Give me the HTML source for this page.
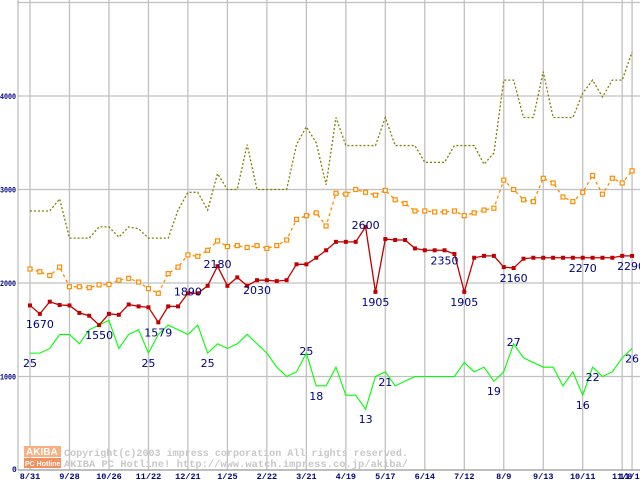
<!DOCTYPE html>
<html><head><meta charset="utf-8"><style>
body{margin:0;background:#fff;}
svg{display:block;font-family:"Liberation Mono",monospace;}
</style></head><body>
<svg id="c" width="640" height="480" viewBox="0 0 640 480"></svg>
<script>
const xLabels=["8/31","9/28","10/26","11/22","12/21","1/25","2/22","3/21","4/19","5/17","6/14","7/12","8/9","9/13","10/11","11/8","11/15"];
const xLabelIdx=[0,4,8,12,16,20,24,28,32,36,40,44,48,52,56,60,61];
const yTicks=[0,1000,2000,3000,4000,5000];
const redVals=[1760,1670,1800,1765,1760,1680,1650,1550,1670,1660,1770,1750,1740,1579,1750,1750,1890,1890,1970,2180,1970,2060,1970,2030,2030,2020,2030,2200,2200,2270,2350,2440,2440,2440,2600,1905,2470,2460,2460,2370,2350,2350,2350,2310,1905,2270,2290,2290,2170,2160,2260,2270,2270,2270,2270,2270,2270,2270,2270,2270,2290,2290];
const orangeVals=[2150,2120,2080,2170,1960,1960,1950,1980,1985,2030,2050,2010,1940,1890,2100,2170,2300,2285,2350,2450,2390,2400,2380,2400,2370,2400,2460,2680,2720,2750,2610,2960,2950,3000,2970,2940,2990,2890,2850,2770,2770,2760,2760,2770,2720,2750,2780,2800,3100,3000,2890,2870,3120,3070,2920,2870,2970,3150,2950,3120,3070,3200];
const oliveVals=[2770,2770,2770,2900,2480,2480,2480,2600,2600,2490,2600,2580,2480,2480,2480,2780,2970,2970,2780,3170,3000,3000,3480,3000,3000,3000,3000,3480,3670,3500,3050,3770,3470,3470,3470,3470,3770,3470,3470,3470,3290,3290,3290,3470,3470,3470,3270,3390,4170,4170,3770,3770,4260,3770,3770,3770,4030,4170,3990,4170,4170,4470];
const greenCounts=[25,25,26,29,29,27,30,31,32,26,29,30,25,29,31,30,29,31,25,27,26,27,29,27,25,22,20,21,25,18,18,22,16,16,13,20,21,18,19,20,20,20,20,20,23,21,22,19,21,27,24,23,22,22,18,21,16,22,20,21,24,26];
const redLabelIdx=[1,7,13,16,19,23,34,35,42,44,49,56,61];
const greenLabelIdx=[0,12,18,28,29,34,36,47,49,56,57,61];

const NS="http://www.w3.org/2000/svg";
const svg=document.getElementById('c');
function X(i){return 30+i*9.87;}
function Y(v){return 470-v*0.0935;}
function mk(tag,attrs,parent){const e=document.createElementNS(NS,tag);for(const k in attrs)e.setAttribute(k,attrs[k]);(parent||svg).appendChild(e);return e;}

yTicks.forEach(v=>{
  const l=mk('line',{x1:18,x2:640,y1:Y(v),y2:Y(v),stroke:'#c0c0c0','stroke-width':1.3});
  
  
  if(v>0&&v<5000){
    const t=mk('text',{x:0,y:Y(v)+3,'font-size':8,'font-weight':'bold',fill:'#000080',textLength:16,lengthAdjust:'spacingAndGlyphs'});
    t.textContent=v;
    
    
  }
});
const z=mk('text',{x:12,y:472,'font-size':8,'font-weight':'bold',fill:'#000080'});z.textContent='0';


xLabelIdx.forEach((idx,k)=>{
  const l=mk('line',{x1:X(idx),x2:X(idx),y1:0,y2:470,stroke:'#c0c0c0','stroke-width':1.3});
  
  
  const t=mk('text',{x:X(idx),y:479,'text-anchor':'middle','font-size':8.5,'font-weight':'bold',fill:'#000080'});
  t.textContent=xLabels[k];
  
  
});
const ax=mk('line',{x1:18,x2:18,y1:0,y2:470,stroke:'#c0c0c0','stroke-width':1.3});


const bx=mk('line',{x1:18,x2:640,y1:470,y2:470,stroke:'#a0a0a0','stroke-width':1.3});



const wm=mk('g',{});


mk('rect',{x:24,y:446,width:37,height:11,fill:'#f8b080'},wm);
mk('rect',{x:24,y:458,width:37,height:10,fill:'#f49060'},wm);
const w1=mk('text',{x:26,y:455,'font-size':10,'font-weight':'bold',fill:'#fff','font-family':'Liberation Sans'},wm);w1.textContent='AKIBA';
const w2=mk('text',{x:25,y:466,'font-size':7,'font-weight':'bold',fill:'#fff','font-family':'Liberation Sans'},wm);w2.textContent='PC Hotline!';
const w3=mk('text',{x:64,y:456,'font-size':10.5,'font-weight':'bold',fill:'#c8c8c8',textLength:344,lengthAdjust:'spacingAndGlyphs'},wm);w3.textContent='Copyright(c)2003 impress corporation All rights reserved.';
const w4=mk('text',{x:64,y:467,'font-size':10.5,'font-weight':'bold',fill:'#c8c8c8',textLength:344,lengthAdjust:'spacingAndGlyphs'},wm);w4.textContent='AKIBA PC Hotline!  http://www.watch.impress.co.jp/akiba/';

function pts(arr,f){return arr.map((v,i)=>X(i)+','+Y(f(v))).join(' ');}
const ol=mk('polyline',{points:pts(oliveVals,v=>v),fill:'none',stroke:'#808000','stroke-width':1.3,'stroke-dasharray':'2,2'});


const or=mk('polyline',{points:pts(orangeVals,v=>v),fill:'none',stroke:'#ff8c00','stroke-width':1.3,'stroke-dasharray':'3,3'});


orangeVals.forEach((v,i)=>{
  const r=mk('rect',{x:X(i)-2,y:Y(v)-2,width:4,height:4,fill:'#fff',stroke:'#ff8c00','stroke-width':1.2});
  
  
});
const gr=mk('polyline',{points:pts(greenCounts,v=>v*50),fill:'none',stroke:'#00ff00','stroke-width':1.1});


const rd=mk('polyline',{points:pts(redVals,v=>v),fill:'none',stroke:'#c00000','stroke-width':1.3});


redVals.forEach((v,i)=>{
  const r=mk('rect',{x:X(i)-2,y:Y(v)-2,width:4,height:4,fill:'#c00000'});
  
  
});
redLabelIdx.forEach(i=>{
  const above=(i===16||i===19||i===34);
  const t=mk('text',{x:X(i)+(i===61?-1:0),y:Y(redVals[i])+(above?2:14),'text-anchor':'middle','font-size':11,fill:'#000080','font-family':'DejaVu Sans'});
  t.textContent=redVals[i];
  
  
});
greenLabelIdx.forEach(i=>{
  const above=(i===28||i===49);
  const t=mk('text',{x:X(i),y:Y(greenCounts[i]*50)+(above?2:14),'text-anchor':'middle','font-size':11,fill:'#000080','font-family':'DejaVu Sans'});
  t.textContent=greenCounts[i];
  
  
});
</script>
</body></html>
